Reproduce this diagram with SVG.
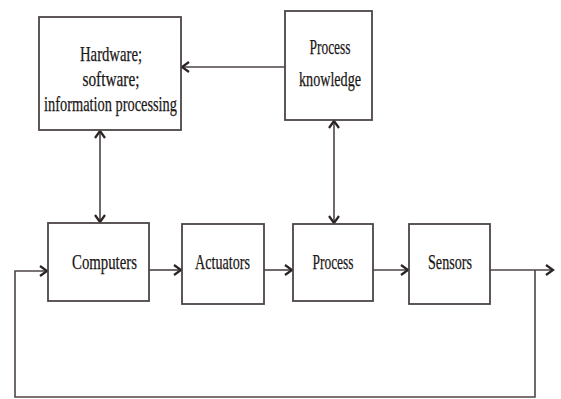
<svg xmlns="http://www.w3.org/2000/svg" width="561" height="399" viewBox="0 0 561 399">
<defs>
<style>
.box{fill:#ffffff;stroke:#4d4545;stroke-width:1.8}
.lbl{font-family:"Liberation Serif","Times New Roman",serif;font-size:22px;fill:#1a1616;text-anchor:middle;stroke:#1a1616;stroke-width:0.25}
.wire{fill:none;stroke:#4d4545;stroke-width:1.6}
</style>
<marker id="chev" viewBox="0 0 12 12" markerUnits="userSpaceOnUse" markerWidth="12" markerHeight="12" refX="10" refY="6" orient="auto-start-reverse">
<path d="M3,1 L10,6 L3,11" fill="none" stroke="#2a2424" stroke-width="2.2"/>
</marker>
</defs>
<rect width="561" height="399" fill="#ffffff"/>
<g id="connectors">
<line class="wire" x1="285" y1="67" x2="182" y2="67" marker-end="url(#chev)"/>
<line class="wire" x1="100" y1="131" x2="100" y2="222" marker-start="url(#chev)" marker-end="url(#chev)"/>
<line class="wire" x1="334" y1="121" x2="334" y2="223" marker-start="url(#chev)" marker-end="url(#chev)"/>
<line class="wire" x1="149" y1="270" x2="181" y2="270" marker-end="url(#chev)"/>
<line class="wire" x1="264" y1="270" x2="292" y2="270" marker-end="url(#chev)"/>
<line class="wire" x1="373" y1="270" x2="408" y2="270" marker-end="url(#chev)"/>
<line class="wire" x1="490" y1="270" x2="553" y2="270" marker-end="url(#chev)"/>
<polyline class="wire" points="535,270 535,397 15,397 15,271 47,271" marker-end="url(#chev)"/>
</g>
<g id="hardware">
<rect class="box" x="39" y="17" width="142" height="113"/>
<text class="lbl" x="111" y="61" textLength="62" lengthAdjust="spacingAndGlyphs">Hardware;</text>
<text class="lbl" x="111" y="86" textLength="57" lengthAdjust="spacingAndGlyphs">software;</text>
<text class="lbl" x="110.5" y="111" textLength="133" lengthAdjust="spacingAndGlyphs">information processing</text>
</g>
<g id="knowledge">
<rect class="box" x="285" y="11" width="87" height="109"/>
<text class="lbl" x="330" y="54" textLength="41" lengthAdjust="spacingAndGlyphs">Process</text>
<text class="lbl" x="330" y="86" textLength="62" lengthAdjust="spacingAndGlyphs">knowledge</text>
</g>
<g id="computers">
<rect class="box" x="48" y="223" width="101" height="78"/>
<text class="lbl" x="104.5" y="269" textLength="65" lengthAdjust="spacingAndGlyphs">Computers</text>
</g>
<g id="actuators">
<rect class="box" x="182" y="224" width="82" height="80"/>
<text class="lbl" x="222.5" y="269" textLength="55" lengthAdjust="spacingAndGlyphs">Actuators</text>
</g>
<g id="process">
<rect class="box" x="293" y="224" width="80" height="77"/>
<text class="lbl" x="333" y="269" textLength="41" lengthAdjust="spacingAndGlyphs">Process</text>
</g>
<g id="sensors">
<rect class="box" x="409" y="224" width="81" height="80"/>
<text class="lbl" x="450" y="269" textLength="44" lengthAdjust="spacingAndGlyphs">Sensors</text>
</g>
</svg>
